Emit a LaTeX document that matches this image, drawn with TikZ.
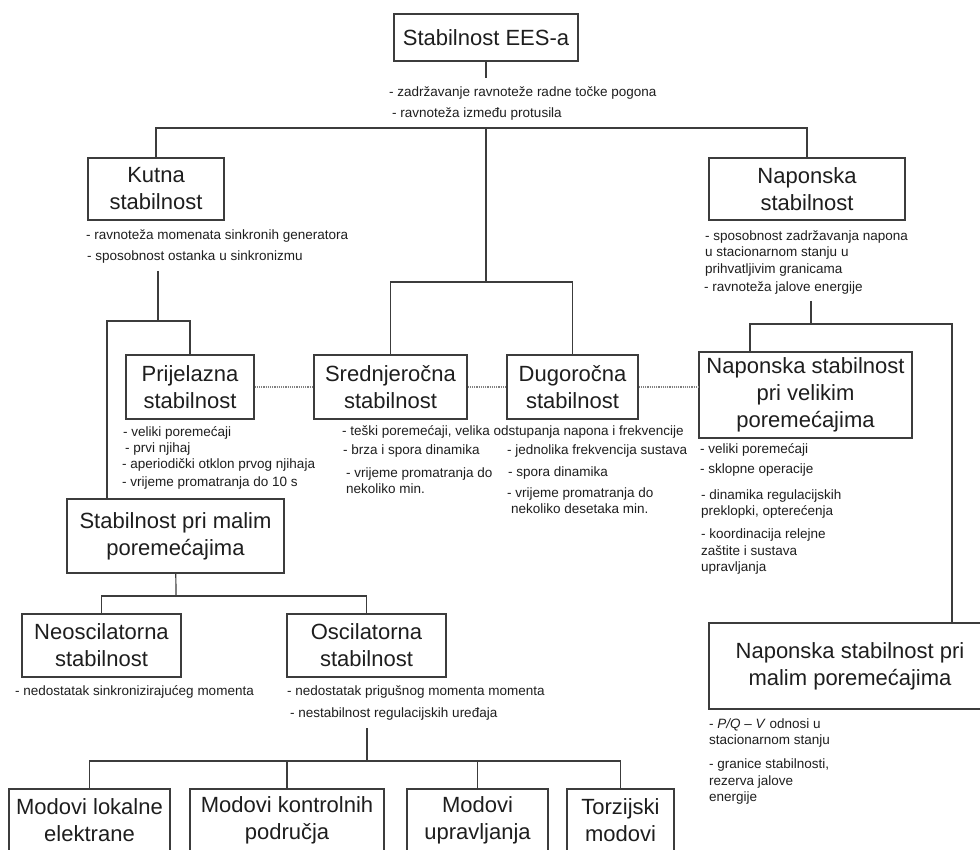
\documentclass[tikz,border=0pt]{standalone}
\usepackage{fontspec}
\setmainfont{Liberation Sans}
\usetikzlibrary{calc}
\definecolor{linija}{HTML}{3C3C3C}
\definecolor{tekst}{HTML}{1E1E1E}
\tikzset{
  box/.style={draw=linija, line width=1.2pt, fill=white, align=center, inner sep=0pt, text=tekst, font=\fontsize{22}{27}\selectfont},
  opis/.style={anchor=base west, align=left, inner sep=0pt, text=tekst, font=\fontsize{13.5}{16.5}\selectfont},
  veza/.style={draw=linija, line width=1.2pt},
  tocke/.style={draw=gray, line width=1.2pt, densely dotted}
}
\begin{document}
\begin{tikzpicture}[x=1pt,y=-1pt]
\clip (0,0) rectangle (980,850); % okvir slike
\fill[white] (0,0) rectangle (980,850);
% Blokovi
\node[box, minimum width=184pt, minimum height=47pt] (ees) at (486,37.5) {Stabilnost EES-a};
\node[box, minimum width=136pt, minimum height=62pt] (kutna) at (156,189) {Kutna\\stabilnost};
\node[box, minimum width=196pt, minimum height=62pt] (napon) at (807,189) {Naponska\\stabilnost};
\node[box, minimum width=128pt, minimum height=64pt] (prij) at (190,387) {Prijelazna\\stabilnost};
\node[box, minimum width=153pt, minimum height=64pt] (sred) at (390.5,387) {Srednjeročna\\stabilnost};
\node[box, minimum width=131pt, minimum height=64pt] (dug) at (572.5,387) {Dugoročna\\stabilnost};
\node[box, minimum width=213pt, minimum height=86pt] (nvel) at (805.5,395) {Naponska stabilnost\\pri velikim\\poremećajima};
\node[box, minimum width=217pt, minimum height=74pt] (mali) at (175.5,536) {Stabilnost pri malim\\poremećajima};
\node[box, minimum width=159pt, minimum height=63pt] (neosc) at (101.5,645.5) {Neoscilatorna\\stabilnost};
\node[box, minimum width=159pt, minimum height=63pt] (osc) at (366.5,645.5) {Oscilatorna\\stabilnost};
\node[box, minimum width=282pt, minimum height=86pt] (nmali) at (850,666) {Naponska stabilnost pri\\malim poremećajima};
\node[box, minimum width=161pt, minimum height=63pt] (mod1) at (89.5,820.5) {Modovi lokalne\\elektrane};
\node[box, minimum width=194pt, minimum height=63pt] (mod2) at (287,820.5) {Modovi kontrolnih\\područja};
\node[box, minimum width=141pt, minimum height=63pt] (mod3) at (477.5,820.5) {Modovi\\upravljanja};
\node[box, minimum width=107pt, minimum height=63pt] (mod4) at (620.5,820.5) {Torzijski\\modovi};
% Opisi (base = zadnji redak)
\node[opis] (ta1) at (389,96.5) {- zadržavanje ravnoteže radne točke pogona};
\node[opis] (ta2) at (392,117.5) {- ravnoteža između protusila};
\node[opis] (tk1) at (86,239.5) {- ravnoteža momenata sinkronih generatora};
\node[opis] (tk2) at (87,260.5) {- sposobnost ostanka u sinkronizmu};
\node[opis] (tn1) at (705,273.5) {- sposobnost zadržavanja napona\\u stacionarnom stanju u\\prihvatljivim granicama};
\node[opis] (tn2) at (704,291.5) {- ravnoteža jalove energije};
\node[opis] (tp1) at (123,436.5) {- veliki poremećaji};
\node[opis] (tp2) at (125,452.5) {- prvi njihaj};
\node[opis] (tp3) at (122,468.5) {- aperiodički otklon prvog njihaja};
\node[opis] (tp4) at (122,486.5) {- vrijeme promatranja do 10 s};
\node[opis] (ts1) at (342,435) {- teški poremećaji, velika odstupanja napona i frekvencije};
\node[opis] (ts2) at (343,454) {- brza i spora dinamika};
\node[opis] (ts3) at (346,493.5) {- vrijeme promatranja do\\nekoliko min.};
\node[opis] (td1) at (507,454) {- jednolika frekvencija sustava};
\node[opis] (td2) at (508,476) {- spora dinamika};
\node[opis] (td3) at (507,513.5) {- vrijeme promatranja do\\\hspace{4pt}nekoliko desetaka min.};
\node[opis] (tv1) at (700,453.5) {- veliki poremećaji};
\node[opis] (tv2) at (700,473.5) {- sklopne operacije};
\node[opis] (tv3) at (701,515.5) {- dinamika regulacijskih\\preklopki, opterećenja};
\node[opis] (tv4) at (701,571.5) {- koordinacija relejne\\zaštite i sustava\\upravljanja};
\node[opis] (tne) at (15,695.5) {- nedostatak sinkronizirajućeg momenta};
\node[opis] (to1) at (287,695.5) {- nedostatak prigušnog momenta momenta};
\node[opis] (to2) at (290,717.5) {- nestabilnost regulacijskih uređaja};
\node[opis] (tm1) at (709,744.5) {- \textit{P/Q} – \textit{V} odnosi u\\stacionarnom stanju};
\node[opis] (tm2) at (709,801.5) {- granice stabilnosti,\\rezerva jalove\\energije};
% Cvorovi veza
\coordinate (a1) at (486,78);
\coordinate (a2) at (486,128);
\coordinate (a3) at (486,282);
\coordinate (k1) at (158,271);
\coordinate (k2) at (158,321);
\coordinate (k3) at (107,321);
\coordinate (n1) at (811,301);
\coordinate (n2) at (811,324);
\coordinate (n3) at (750,324);
\coordinate (n4) at (952,324);
\coordinate (m1) at (176,596);
\coordinate (o1) at (367,728);
\coordinate (o2) at (367,761);
% Veze
\draw[veza] (ees) -- (a1);
\draw[veza] (kutna.north) |- (a2) -| (napon.north);
\draw[veza] (a2) -- (a3);
\draw[veza] (sred.north) |- (a3) -| (dug.north);
\draw[veza] (k1) -- (k2);
\draw[veza] (prij.north) |- (k3) -- (k3 |- mali.north);
\draw[veza] (n1) -- (n2);
\draw[veza] (n3 |- nvel.north) -- (n3) -- (n4) -- (n4 |- nmali.north);
\draw[veza] (mali) -- (m1);
\draw[veza] (neosc.north) |- (m1) -| (osc.north);
\draw[veza] (o1) -- (o2);
\draw[veza] (mod1.north) |- (o2) -| (mod4.north);
\draw[veza] (mod2.north) -- (mod2.north |- o2);
\draw[veza] (mod3.north) -- (mod3.north |- o2);
% Tockaste veze
\draw[tocke] (prij.east) -- (sred.west);
\draw[tocke] (sred.east) -- (dug.west);
\draw[tocke] (dug.east) -- (dug.east -| nvel.west);
\end{tikzpicture}
\end{document}
